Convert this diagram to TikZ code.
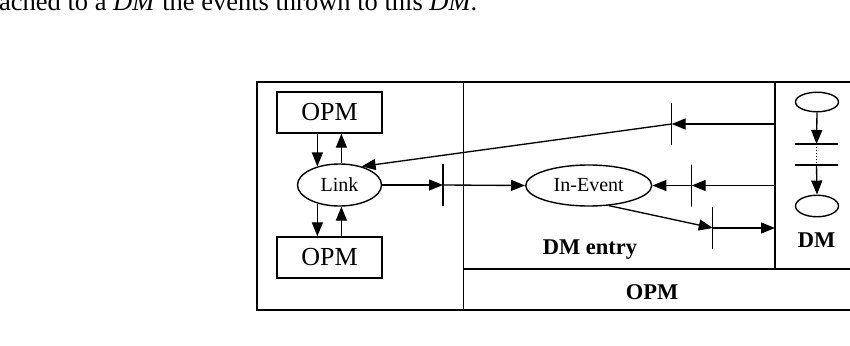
\documentclass[tikz,border=0pt]{standalone}
\usepackage{fontspec}
\setmainfont{Liberation Serif}
\usetikzlibrary{arrows.meta,shapes.geometric}
\tikzset{
  ln/.style={line width=1.5pt},
  arr/.style={line width=1.35pt,-{Triangle[length=14pt,width=11pt]}},
  box/.style={draw,line width=1.4pt,rectangle,minimum width=105pt,minimum height=41pt,inner sep=0pt,font=\fontsize{26}{30}\selectfont},
  ell/.style={draw,line width=1.4pt,ellipse,inner sep=0pt,font=\fontsize{20}{24}\selectfont},
  vtick/.style={draw,line width=1.35pt,rectangle,minimum width=0pt,minimum height=42pt,inner sep=0pt,outer sep=0pt},
  htick/.style={draw,line width=1.35pt,rectangle,minimum width=43pt,minimum height=0pt,inner sep=0pt,outer sep=0pt},
  blabel/.style={font=\bfseries\fontsize{22.5}{26}\selectfont,inner sep=0pt}
}
\begin{document}
\begin{tikzpicture}[x=1pt,y=-1pt]
\clip (0,0) rectangle (850,345);
% cut caption line at top
\node[anchor=base west,inner sep=0pt,font=\fontsize{26.5}{30}\selectfont] (cap) at (-1,11)
  {ached to a \textit{DM} the events thrown to this \textit{DM}.};
% frame
\draw[ln] (257,82) rectangle (855,310);
\coordinate (divA) at (463.7,82);
\coordinate (divAb) at (463.7,310);
\coordinate (divH) at (463.7,269);
\coordinate (divHr) at (855,269);
\coordinate (dmdiv) at (775,82);
\coordinate (dmdivb) at (775,269);
\draw[ln] (divA) -- (divAb);
\draw[ln] (divH) -- (divHr);
\draw[ln] (dmdiv) -- (dmdivb);
% nodes
\node[box] (opmtop) at (329.5,112.5) {OPM};
\node[box] (opmbot) at (329.5,257.5) {OPM};
\node[ell,minimum width=84pt,minimum height=42pt] (link) at (339.5,185) {Link};
\node[ell,minimum width=126pt,minimum height=41pt] (inevent) at (588.7,185.5) {In-Event};
\node[ell,minimum width=43pt,minimum height=19.5pt] (dm1) at (817,102) {};
\node[ell,minimum width=43pt,minimum height=21.5pt] (dm2) at (817,206) {};
% ticks
\node[vtick] (t1) at (443,185) {};
\node[vtick] (t2) at (671.7,124) {};
\node[vtick] (t3) at (691.7,185.5) {};
\node[vtick] (t4) at (712.7,228) {};
\node[htick] (h1) at (816.5,144) {};
\node[htick] (h2) at (816.5,165) {};
% labels
\node[blabel] (dmentry) at (590,250) {DM entry};
\node[blabel] (dmlab) at (816.5,240) {DM};
\node[blabel] (opmlab) at (652,292) {OPM};
% connectors OPM <-> Link
\draw[arr] (opmtop.south -| link.140) -- (link.140);
\draw[arr] (link.85) -- (opmtop.south -| link.85);
\draw[arr] (link.220) -- (opmbot.north -| link.220);
\draw[arr] (opmbot.north -| link.275) -- (link.275);
% Link -> In-Event
\draw[arr] (link.east) -- (t1.center);
\draw[arr] (t1.center) -- (inevent.west);
% DM -> Link
\draw[arr] (dmdiv |- t2) -- (t2.center);
\draw[arr] (t2.center) -- (link.40);
% DM -> In-Event
\draw[arr] (dmdiv |- t3) -- (t3.center);
\draw[arr] (t3.center) -- (inevent.east);
% In-Event -> DM
\draw[arr] (inevent.-45) -- (t4.center);
\draw[arr] (t4.center) -- (dmdiv |- t4);
% DM column
\draw[arr] (dm1.south) -- (h1.center);
\draw[line width=1pt,dotted] (h1.center) -- (h2.center);
\draw[arr] (h2.center) -- (dm2.north);
\end{tikzpicture}
\end{document}
